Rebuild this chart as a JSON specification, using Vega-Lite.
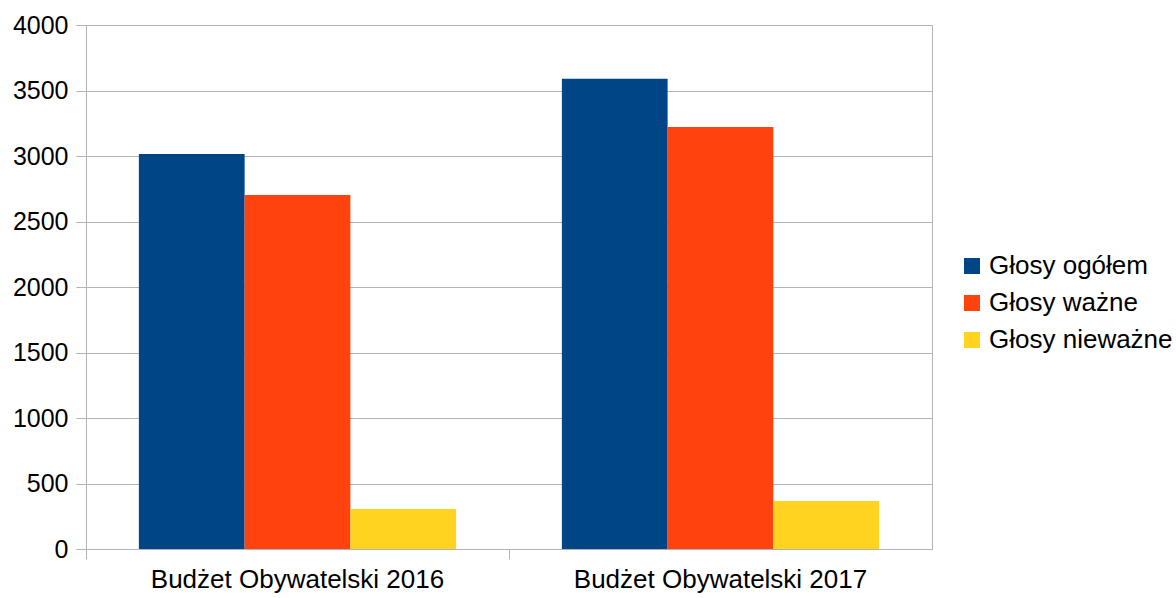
{
  "$schema": "https://vega.github.io/schema/vega-lite/v6.json",
  "width": 846,
  "height": 524,
  "autosize": {"type": "none"},
  "padding": {"left": 86, "top": 25, "right": 244, "bottom": 49},
  "background": "white",
  "config": {
    "font": "Liberation Sans",
    "view": {"stroke": "#b3b3b3", "strokeWidth": 1}
  },
  "data": {
    "values": [
      {"kategoria": "Budżet Obywatelski 2016", "seria": "Głosy ogółem", "wartosc": 3015},
      {"kategoria": "Budżet Obywatelski 2016", "seria": "Głosy ważne", "wartosc": 2702},
      {"kategoria": "Budżet Obywatelski 2016", "seria": "Głosy nieważne", "wartosc": 306},
      {"kategoria": "Budżet Obywatelski 2017", "seria": "Głosy ogółem", "wartosc": 3589},
      {"kategoria": "Budżet Obywatelski 2017", "seria": "Głosy ważne", "wartosc": 3221},
      {"kategoria": "Budżet Obywatelski 2017", "seria": "Głosy nieważne", "wartosc": 367}
    ]
  },
  "mark": {"type": "bar"},
  "encoding": {
    "x": {
      "field": "kategoria",
      "type": "nominal",
      "title": null,
      "scale": {"paddingInner": 0, "paddingOuter": 0},
      "axis": {
        "labelAngle": 0,
        "labelFontSize": 26,
        "labelLimit": 0,
        "labelColor": "#000000",
        "labelPadding": 7,
        "bandPosition": 0,
        "domainColor": "#b3b3b3",
        "tickColor": "#b3b3b3",
        "tickSize": 10,
        "grid": false
      }
    },
    "xOffset": {
      "field": "seria",
      "type": "nominal",
      "sort": ["Głosy ogółem", "Głosy ważne", "Głosy nieważne"],
      "scale": {"paddingInner": 0, "paddingOuter": 0.5}
    },
    "y": {
      "field": "wartosc",
      "type": "quantitative",
      "title": null,
      "scale": {"domain": [0, 4000], "nice": false},
      "axis": {
        "values": [0, 500, 1000, 1500, 2000, 2500, 3000, 3500, 4000],
        "format": "d",
        "labelFontSize": 25,
        "labelColor": "#000000",
        "labelPadding": 8,
        "gridColor": "#b3b3b3",
        "domainColor": "#b3b3b3",
        "tickColor": "#b3b3b3",
        "tickSize": 10
      }
    },
    "color": {
      "field": "seria",
      "type": "nominal",
      "sort": ["Głosy ogółem", "Głosy ważne", "Głosy nieważne"],
      "scale": {
        "domain": ["Głosy ogółem", "Głosy ważne", "Głosy nieważne"],
        "range": ["#004586", "#ff420e", "#ffd320"]
      },
      "legend": {
        "title": null,
        "orient": "none",
        "legendX": 873,
        "legendY": 228,
        "symbolType": "square",
        "symbolSize": 256,
        "symbolStrokeWidth": 0,
        "labelFontSize": 26,
        "labelLimit": 0,
        "labelColor": "#000000",
        "rowPadding": 11,
        "labelOffset": 4
      }
    }
  }
}
